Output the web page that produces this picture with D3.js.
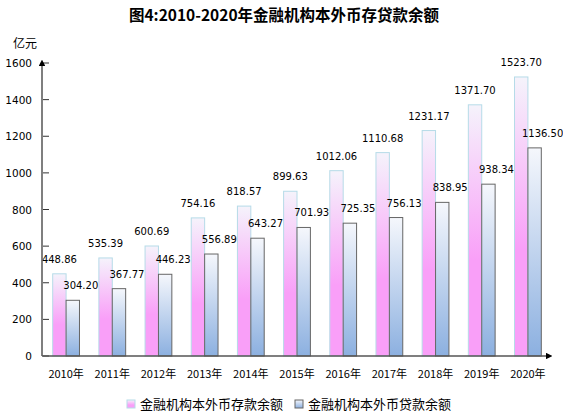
<!DOCTYPE html>
<html>
<head>
    <meta charset="utf-8">
    <title>金融机构本外币存贷款余额</title>
    <script type="text/javascript" src="https://d3js.org/d3.v7.min.js"></script>
    <style>
      body { margin: 0; background: #fff; }
      svg text { font-family: "DejaVu Sans", sans-serif; }
      .cjk { font-family: "Noto Sans CJK SC", sans-serif; }
    </style>
</head>
<body>
<script type="text/javascript">

    var width = 563
    var height = 415

    var years = ["2010年","2011年","2012年","2013年","2014年","2015年","2016年","2017年","2018年","2019年","2020年"]
    var deposits = [448.86, 535.39, 600.69, 754.16, 818.57, 899.63, 1012.06, 1110.68, 1231.17, 1371.70, 1523.70]
    var loans = [304.20, 367.77, 446.23, 556.89, 643.27, 701.93, 725.35, 756.13, 838.95, 938.34, 1136.50]
    var yTicks = [0, 200, 400, 600, 800, 1000, 1200, 1400, 1600]
    var seriesNames = ["金融机构本外币存款余额", "金融机构本外币贷款余额"]

    var plotLeft = 43, plotRight = 551, plotTop = 63, plotBottom = 356

    var svg = d3.select("body").append("svg").attr("width", width).attr("height", height)

    var defs = svg.append("defs")
    var g1 = defs.append("linearGradient").attr("id", "gDep").attr("x1", 0).attr("y1", 0).attr("x2", 0).attr("y2", 1)
    g1.append("stop").attr("offset", "0%").attr("stop-color", "#f5f3fb")
    g1.append("stop").attr("offset", "62%").attr("stop-color", "#f99ff8")
    g1.append("stop").attr("offset", "100%").attr("stop-color", "#f99ff8")
    var g2 = defs.append("linearGradient").attr("id", "gLoan").attr("x1", 0).attr("y1", 0).attr("x2", 0).attr("y2", 1)
    g2.append("stop").attr("offset", "0%").attr("stop-color", "#f5f7fc")
    g2.append("stop").attr("offset", "100%").attr("stop-color", "#8cb0e0")
    var m = defs.append("marker").attr("id", "arrow").attr("viewBox", "0 0 10 10")
        .attr("refX", 2).attr("refY", 5).attr("markerWidth", 4.5).attr("markerHeight", 4.5)
        .attr("orient", "auto-start-reverse")
    m.append("path").attr("d", "M0,0 L10,5 L0,10 z").attr("fill", "#000")

    var x = d3.scaleBand().domain(years).range([plotLeft, plotRight])
    var y = d3.scaleLinear().domain([0, 1600]).range([plotBottom, plotTop])
    var bw = x.bandwidth() * 0.29

    // title
    svg.append("text").attr("class", "cjk")
        .attr("x", 284).attr("y", 21).attr("text-anchor", "middle")
        .attr("font-size", 15.5).attr("font-weight", "bold")
        .text("图4:2010-2020年金融机构本外币存贷款余额")

    svg.append("text").attr("class", "cjk")
        .attr("x", 25).attr("y", 48).attr("text-anchor", "middle")
        .attr("font-size", 12).text("亿元")

    // y ticks
    svg.selectAll(".ytick").data(yTicks).enter().append("line")
        .attr("x1", plotLeft).attr("x2", plotLeft + 6)
        .attr("y1", function(d) { return y(d) }).attr("y2", function(d) { return y(d) })
        .attr("stroke", "#333")
    svg.selectAll(".ylab").data(yTicks).enter().append("text")
        .attr("x", 32).attr("y", function(d) { return y(d) + 4 })
        .attr("text-anchor", "end").attr("font-size", 10.5)
        .text(function(d) { return d })

    // bars
    svg.selectAll(".dep").data(deposits).enter().append("rect")
        .attr("x", function(d, i) { return x(years[i]) + x.bandwidth() / 2 - bw })
        .attr("y", function(d) { return y(d) })
        .attr("width", bw).attr("height", function(d) { return y(0) - y(d) })
        .attr("fill", "url(#gDep)").attr("stroke", "#b6dbe8")
    svg.selectAll(".loan").data(loans).enter().append("rect")
        .attr("x", function(d, i) { return x(years[i]) + x.bandwidth() / 2 })
        .attr("y", function(d) { return y(d) })
        .attr("width", bw).attr("height", function(d) { return y(0) - y(d) })
        .attr("fill", "url(#gLoan)").attr("stroke", "#666")

    // labels
    svg.selectAll(".depl").data(deposits).enter().append("text")
        .attr("x", function(d, i) { return x(years[i]) + x.bandwidth() / 2 - bw / 2 })
        .attr("y", function(d) { return y(d) - 11 })
        .attr("text-anchor", "middle").attr("font-size", 10)
        .text(function(d) { return d.toFixed(2) })
    svg.selectAll(".loanl").data(loans).enter().append("text")
        .attr("x", function(d, i) { return x(years[i]) + x.bandwidth() / 2 + bw / 2 + 8 })
        .attr("y", function(d) { return y(d) - 11 })
        .attr("text-anchor", "middle").attr("font-size", 10)
        .text(function(d) { return d.toFixed(2) })

    // axes
    svg.append("line").attr("x1", plotLeft - 1).attr("x2", plotLeft - 1).attr("y1", plotBottom).attr("y2", plotTop + 2)
        .attr("stroke", "#555").attr("stroke-width", 1.5).attr("marker-end", "url(#arrow)")
    svg.append("line").attr("x1", plotLeft - 1).attr("x2", plotRight - 4).attr("y1", plotBottom).attr("y2", plotBottom)
        .attr("stroke", "#555").attr("stroke-width", 1.5).attr("marker-end", "url(#arrow)")

    svg.selectAll(".xlab").data(years).enter().append("text").attr("class", "cjk")
        .attr("x", function(d) { return x(d) + x.bandwidth() / 2 })
        .attr("y", 378).attr("text-anchor", "middle").attr("font-size", 11)
        .text(function(d) { return d })

    // legend
    var legX = [127, 295]
    var legFill = ["url(#gDep)", "url(#gLoan)"]
    var legStroke = ["#b6dbe8", "#666"]
    seriesNames.forEach(function(name, i) {
        svg.append("rect").attr("x", legX[i]).attr("y", 400).attr("width", 8).attr("height", 8)
            .attr("fill", legFill[i]).attr("stroke", legStroke[i])
        svg.append("text").attr("class", "cjk").attr("x", legX[i] + 13).attr("y", 409)
            .attr("font-size", 13).text(name)
    })
</script>
</body>
</html>
